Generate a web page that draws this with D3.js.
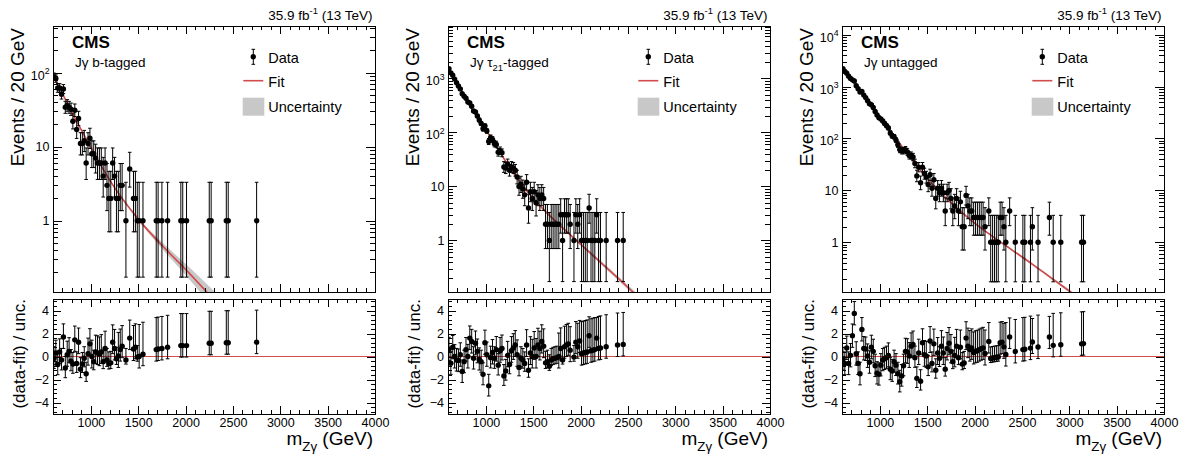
<!DOCTYPE html>
<html>
<head>
<meta charset="utf-8">
<script src="https://cdn.jsdelivr.net/npm/d3@7"></script>
<style>
  body { margin: 0; background: #fff; }
  text { font-family: "Liberation Sans", Arial, Helvetica, sans-serif; fill: #000; }
</style>
</head>
<body>
<script>

// ---- b-tagged category ----
var bMass = [610,630,650,670,690,710,730,750,770,790,
             810,830,850,870,890,910,930,950,970,990,
             1010,1030,1050,1070,1090,1110,1130,1150,1170,1190,
             1210,1230,1250,1270,1290,1310,1330,
             1370,1410,1450,1470,1490,1510,1550,
             1690,1710,1750,1810,1950,1970,2010,
             2250,2270,2430,2450,2750];
var bCounts = [88,83,62,62,51,60,34,36,34,32,
               22,31,17,24,11,11,12,6,11,13,
               8,8,7,6,6,6,4,6,3,2,
               2,6,4,2,2,3,3,
               1,5,2,2,1,1,1,
               1,1,1,1,1,1,1,
               1,1,1,1,1];
var bPulls = [-0.15,0.3,-0.7,0.4,-0.3,1.7,-1.0,0.15,0.45,-0.4,
              -0.65,1.45,-0.6,1.25,-1.1,-0.65,-0.15,-1.5,0.25,1.1,
              0,-0.45,0.4,0.3,0.2,0.4,-0.45,0.7,-0.3,-0.6,
              -0.55,1.25,0.7,-0.2,0.05,0.6,0.9,
              -0.3,1.6,0.65,0.8,-0.05,0,0.2,
              0.6,0.65,0.7,0.8,0.95,0.95,0.95,
              1.15,1.15,1.2,1.2,1.25];
var bFitMass = [600,800,1000,1200,1500,1800,2000,2300];
var bFitVals = [95,29,9.8,3.5,1.05,0.40,0.22,0.085];
var bBand    = [0.008,0.008,0.008,0.012,0.02,0.05,0.075,0.12];   // half width, decades
var bDecades = [1,10,100];

// ---- tau21-tagged category ----
var tMass = [610,630,650,670,690,710,730,750,770,790,
             810,830,850,870,890,910,930,950,970,990,
             1010,1030,1050,1070,1090,1110,1130,1150,1170,1190,
             1210,1230,1250,1270,1290,1310,1330,1350,1370,1390,
             1410,1430,1450,1470,1490,1510,1530,1550,1570,1590,
             1610,1630,1650,1670,1690,1710,1730,1750,1770,1790,
             1810,1830,1850,1870,1890,1930,1950,1970,1990,2010,
             2030,2050,2070,2090,2110,2130,2150,2170,2190,2210,
             2270,2390,2450];
var tCounts = [1515,1273,1149,975,838,726,642,523,471,430,
               366,352,307,250,239,202,170,147,117,132,
               107,68,80,74,62,60,43,46,42,23,
               22,26,20,23,22,20,15,10,11,9,
               7,12,4,8,6,8,5,7,6,7,
               6,2,2,1,2,2,2,2,2,3,
               1,3,3,3,2,1,3,2,3,1,
               1,1,1,4,1,1,1,3,1,1,
               1,1,1];
var tPulls = [0.64,-0.58,0.8,0,-0.3,-0.35,0.15,-1.3,-0.45,0.6,
              0,1.6,1.3,-0.15,1.15,0.45,-0.25,-0.45,-1.55,1.2,
              0.15,-2.55,-0.1,0.35,-0.15,0.6,-0.75,0.5,0.7,-1.7,
              -1.25,0.1,-0.7,0.5,0.75,1.0,0.15,-0.95,-0.15,-0.3,
              -0.6,1.0,-1.2,0.3,0,0.75,0,1.0,0.7,1.3,
              0.9,-0.55,-0.45,-0.85,-0.3,-0.2,-0.15,-0.1,0,0.7,
              -0.3,0.85,1.0,1.1,0.55,-0.05,1.25,0.85,1.35,0.25,
              0.3,0.35,0.4,1.8,0.5,0.55,0.6,1.6,0.7,0.75,
              0.85,1.0,1.05];
var tFitMass = [600,800,1000,1200,1400,1600,1800,2000,2200,2400,2600];
var tFitVals = [1600,389,112,30.9,9.77,3.89,1.78,0.85,0.41,0.197,0.093];
var tBand    = [0.005,0.005,0.005,0.006,0.008,0.012,0.018,0.024,0.03,0.038,0.045];
var tDecades = [1,10,100,1000];

// ---- untagged category ----
var uMass = [610,630,650,670,690,710,730,750,770,790,
             810,830,850,870,890,910,930,950,970,990,
             1010,1030,1050,1070,1090,1110,1130,1150,1170,1190,
             1210,1230,1250,1270,1290,1310,1330,1350,1370,1390,
             1410,1430,1450,1470,1490,1510,1530,1550,1570,1590,
             1610,1630,1650,1670,1690,1710,1730,1750,1770,1790,
             1810,1830,1850,1870,1890,1910,1930,1950,1970,1990,
             2010,2030,2050,2070,2090,2110,
             2150,2170,2190,2210,2230,2250,2270,2290,2310,2330,
             2370,2430,2510,2530,2590,2610,2670,2790,2830,2910,3130,3150];
var uCounts = [2209,1963,1815,1576,1436,1349,1278,1041,907,787,
               807,685,613,536,469,447,395,331,284,252,
               237,218,195,176,159,128,112,108,93,76,
               61,58,58,61,55,47,47,44,33,19,
               28,14,28,21,18,13,20,11,16,7,
               11,9,11,9,4,9,10,7,4,5,
               7,4,6,2,2,8,5,4,4,3,
               3,3,3,3,3,2,
               4,1,1,1,1,1,3,3,2,1,
               4,1,1,1,1,2,1,3,1,1,1,1];
var uPulls = [-0.2,-0.6,0.75,-0.6,0.1,1.8,3.75,0.25,-0.6,-1.5,
              2.35,0.7,0.65,0.05,-0.5,0.8,0.45,-0.8,-1.45,-1.55,
              -0.75,-0.3,-0.2,-0.1,0.1,-1.1,-1.25,-0.45,-0.75,-1.5,
              -2.2,-1.7,-0.8,0.45,0.4,0.05,0.9,1.05,-0.1,-1.9,
              0.3,-2.15,1.2,0.15,0.05,-0.9,1.35,-0.6,1.1,-1.2,
              0.3,-0.15,0.9,0.3,-1.1,0.7,1.15,0.45,-0.45,0.1,
              0.9,-0.1,0.8,-0.66,-0.56,1.6,0.9,0.6,0.75,0.35,
              0.45,0.5,0.6,0.68,0.75,0.26,
              1.3,-0.17,-0.13,-0.1,-0.07,-0.04,1.2,1.25,0.84,0.17,
              1.7,0.44,0.6,0.63,0.73,1.26,0.82,1.7,0.97,1.02,1.1,1.12];
var uFitMass = [600,800,1000,1200,1400,1600,1800,2000,2200,2400,2600,2800,3000,3100];
var uFitVals = [2344,785,263,85.1,28.2,10.7,4.79,2.34,1.26,0.70,0.389,0.211,0.115,0.085];
var uBand    = [0.004,0.004,0.004,0.005,0.006,0.008,0.01,0.012,0.014,0.017,0.02,0.024,0.028,0.03];
var uDecades = [1,10,100,1000,10000];

// axis labels
var xTickLabels = [1000,1500,2000,2500,3000,3500,4000];
var pullTickLabels = [-4,-2,0,2,4];

// Garwood intervals for small counts
var garLo = [0,0.827,1.292,1.633,1.914,2.159];
var garHi = [1.841,2.300,2.638,2.918,3.163,3.382];
function errLo(n){ return n < garLo.length ? garLo[n] : Math.sqrt(n-0.25); }
function errHi(n){ return n < garHi.length ? garHi[n] : Math.sqrt(n+0.75)+1; }

var red = "#d24c4c";
var bandGrey = "#c8c8c8";

var svg = d3.select("body").append("svg")
    .attr("width", 1193)
    .attr("height", 466);

// text with sub/superscripts: parts = [[text, ""|"sup"|"sub"], ...]
function richText(sel, parts, size){
    var shift = 0;
    parts.forEach(function(p){
        var target = p[1] === "sup" ? -size*0.42 : (p[1] === "sub" ? size*0.32 : 0);
        sel.append("tspan")
            .attr("font-size", p[1] ? size*0.7 : size)
            .attr("dy", target - shift)
            .text(p[0]);
        shift = target;
    });
}

var panels = [
    {dx: 0,   mass: bMass, counts: bCounts, pulls: bPulls, fitM: bFitMass, fitV: bFitVals, band: bBand,
     yDom: [0.109, 425], decades: bDecades, label: [["J\u03b3 b-tagged", ""]]},
    {dx: 395, mass: tMass, counts: tCounts, pulls: tPulls, fitM: tFitMass, fitV: tFitVals, band: tBand,
     yDom: [0.111, 9380], decades: tDecades, label: [["J\u03b3 \u03c4", ""], ["21", "sub"], ["-tagged", ""]]},
    {dx: 789, mass: uMass, counts: uCounts, pulls: uPulls, fitM: uFitMass, fitV: uFitVals, band: uBand,
     yDom: [0.110, 14700], decades: uDecades, label: [["J\u03b3 untagged", ""]]}
];

// pad geometry (pixels)
var padL = 53, padR = 375, upTop = 26, upBottom = 292, loTop = 299, loBottom = 414;

panels.forEach(function(p, k){

    var g = svg.append("g").attr("transform", "translate(" + p.dx + ",0)");

    var x = d3.scaleLinear().domain([600, 4000]).range([padL, padR]);
    var y = d3.scaleLog().domain(p.yDom).range([upBottom, upTop]);
    var yr = d3.scaleLinear().domain([-5, 5]).range([loBottom, loTop]);

    // clip regions
    var defs = g.append("defs");
    defs.append("clipPath").attr("id", "clipU" + k).append("rect")
        .attr("x", padL).attr("y", upTop).attr("width", padR-padL).attr("height", upBottom-upTop);
    defs.append("clipPath").attr("id", "clipL" + k).append("rect")
        .attr("x", padL).attr("y", loTop).attr("width", padR-padL).attr("height", loBottom-loTop);

    var rows = p.mass.map(function(m, i){
        return {m: m, n: p.counts[i], r: p.pulls[i]};
    });
    var fit = p.fitM.map(function(m, i){
        return {m: m, v: p.fitV[i], w: p.band[i]};
    });

    // ---------- upper pad ----------
    var up = g.append("g").attr("clip-path", "url(#clipU" + k + ")");

    up.append("path")
        .datum(fit)
        .attr("fill", bandGrey)
        .attr("d", d3.area()
            .x(function(d){ return x(d.m); })
            .y0(function(d){ return y(d.v / Math.pow(10, d.w)); })
            .y1(function(d){ return y(d.v * Math.pow(10, d.w)); })
            .curve(d3.curveMonotoneX));

    up.append("path")
        .datum(fit)
        .attr("fill", "none")
        .attr("stroke", red)
        .attr("stroke-width", 1.6)
        .attr("d", d3.line()
            .x(function(d){ return x(d.m); })
            .y(function(d){ return y(d.v); })
            .curve(d3.curveMonotoneX));

    var eu = up.selectAll(".eu").data(rows).enter().append("g");
    eu.append("line")
        .attr("x1", function(d){ return x(d.m); })
        .attr("x2", function(d){ return x(d.m); })
        .attr("y1", function(d){ return y(d.n - errLo(d.n)); })
        .attr("y2", function(d){ return y(d.n + errHi(d.n)); })
        .attr("stroke", "#000").attr("stroke-width", 1);
    [function(d){ return y(d.n - errLo(d.n)); }, function(d){ return y(d.n + errHi(d.n)); }].forEach(function(fy){
        eu.append("line")
            .attr("x1", function(d){ return x(d.m) - 1.8; })
            .attr("x2", function(d){ return x(d.m) + 1.8; })
            .attr("y1", fy).attr("y2", fy)
            .attr("stroke", "#000").attr("stroke-width", 1);
    });
    up.selectAll(".pt").data(rows).enter().append("circle")
        .attr("cx", function(d){ return x(d.m); })
        .attr("cy", function(d){ return y(d.n); })
        .attr("r", 2.7)
        .attr("fill", "#000");

    // ---------- lower pad ----------
    var lo = g.append("g").attr("clip-path", "url(#clipL" + k + ")");

    lo.append("line")
        .attr("x1", x(600)).attr("x2", x(4000))
        .attr("y1", yr(0)).attr("y2", yr(0))
        .attr("stroke", red).attr("stroke-width", 1.2);

    function pullLow(d){ return d.r >= 0 ? d.r - 1 : d.r - errLo(d.n) / errHi(d.n); }
    function pullHigh(d){ return d.r >= 0 ? d.r + errHi(d.n) / errLo(d.n) : d.r + 1; }

    var el = lo.selectAll(".el").data(rows).enter().append("g");
    el.append("line")
        .attr("x1", function(d){ return x(d.m); })
        .attr("x2", function(d){ return x(d.m); })
        .attr("y1", function(d){ return yr(pullLow(d)); })
        .attr("y2", function(d){ return yr(pullHigh(d)); })
        .attr("stroke", "#000").attr("stroke-width", 1);
    [pullLow, pullHigh].forEach(function(fv){
        el.append("line")
            .attr("x1", function(d){ return x(d.m) - 1.8; })
            .attr("x2", function(d){ return x(d.m) + 1.8; })
            .attr("y1", function(d){ return yr(fv(d)); })
            .attr("y2", function(d){ return yr(fv(d)); })
            .attr("stroke", "#000").attr("stroke-width", 1);
    });
    lo.selectAll(".pp").data(rows).enter().append("circle")
        .attr("cx", function(d){ return x(d.m); })
        .attr("cy", function(d){ return yr(d.r); })
        .attr("r", 2.7)
        .attr("fill", "#000");

    // ---------- axes ----------
    var xMinor = d3.range(700, 4000, 100).filter(function(v){ return v % 500 !== 0; });
    var logMinor = [];
    [0.1, 1, 10, 100, 1000, 10000].forEach(function(dec){
        for (var j = 2; j <= 9; j++){
            var v = dec * j;
            if (v > p.yDom[0] && v < p.yDom[1]) logMinor.push(v);
        }
    });
    var pullMinor = d3.range(-4.8, 5, 0.4).filter(function(v){
        return Math.abs(Math.round(v) - v) > 0.01 || Math.round(v) % 2 !== 0;
    });

    function addAxis(axis, tx, ty){
        var a = g.append("g")
            .attr("transform", "translate(" + tx + "," + ty + ")")
            .call(axis);
        a.select(".domain").remove();
        a.selectAll("line").attr("stroke", "#000").attr("shape-rendering", "crispEdges");
        return a;
    }

    // upper pad
    addAxis(d3.axisBottom(x).tickValues(xTickLabels).tickSize(-8).tickFormat(""), 0, upBottom);
    addAxis(d3.axisBottom(x).tickValues(xMinor).tickSize(-4).tickFormat(""), 0, upBottom);
    addAxis(d3.axisTop(x).tickValues(xTickLabels).tickSize(-8).tickFormat(""), 0, upTop);
    addAxis(d3.axisTop(x).tickValues(xMinor).tickSize(-4).tickFormat(""), 0, upTop);
    addAxis(d3.axisLeft(y).tickValues(p.decades).tickSize(-9).tickFormat(""), padL, 0);
    addAxis(d3.axisLeft(y).tickValues(logMinor).tickSize(-5).tickFormat(""), padL, 0);
    addAxis(d3.axisRight(y).tickValues(p.decades).tickSize(-9).tickFormat(""), padR, 0);
    addAxis(d3.axisRight(y).tickValues(logMinor).tickSize(-5).tickFormat(""), padR, 0);

    // lower pad
    var xa = addAxis(d3.axisBottom(x).tickValues(xTickLabels).tickSize(-8).tickPadding(4)
        .tickFormat(d3.format("d")), 0, loBottom);
    addAxis(d3.axisBottom(x).tickValues(xMinor).tickSize(-4).tickFormat(""), 0, loBottom);
    addAxis(d3.axisTop(x).tickValues(xTickLabels).tickSize(-8).tickFormat(""), 0, loTop);
    addAxis(d3.axisTop(x).tickValues(xMinor).tickSize(-4).tickFormat(""), 0, loTop);
    var ya = addAxis(d3.axisLeft(yr).tickValues(pullTickLabels).tickSize(-8).tickPadding(4)
        .tickFormat(d3.format("d")), padL, 0);
    addAxis(d3.axisLeft(yr).tickValues(pullMinor).tickSize(-4).tickFormat(""), padL, 0);
    addAxis(d3.axisRight(yr).tickValues(pullTickLabels).tickSize(-8).tickFormat(""), padR, 0);
    addAxis(d3.axisRight(yr).tickValues(pullMinor).tickSize(-4).tickFormat(""), padR, 0);

    [xa, ya].forEach(function(a){
        a.attr("font-family", null).attr("font-size", null);
        a.selectAll("text").attr("font-size", 12.5).attr("fill", "#000");
    });

    // log labels
    p.decades.forEach(function(v){
        var e = Math.round(Math.log10(v));
        var t = g.append("text")
            .attr("x", 49.5)
            .attr("text-anchor", "end");
        if (e <= 1){
            t.attr("y", y(v) + 4.4).attr("font-size", 12.5).text(String(v));
        } else {
            t.attr("y", y(v) + 7);
            richText(t, [["10", ""], [String(e), "sup"]], 12.5);
        }
    });

    // frames
    g.append("rect").attr("x", padL).attr("y", upTop)
        .attr("width", padR-padL).attr("height", upBottom-upTop)
        .attr("fill", "none").attr("stroke", "#000").attr("shape-rendering", "crispEdges");
    g.append("rect").attr("x", padL).attr("y", loTop)
        .attr("width", padR-padL).attr("height", loBottom-loTop)
        .attr("fill", "none").attr("stroke", "#000").attr("shape-rendering", "crispEdges");

    // titles
    g.append("text")
        .attr("transform", "translate(24,28) rotate(-90)")
        .attr("text-anchor", "end")
        .attr("font-size", 19)
        .text("Events / 20 GeV");
    g.append("text")
        .attr("transform", "translate(24.5,299) rotate(-90)")
        .attr("text-anchor", "end")
        .attr("font-size", 17)
        .text("(data-fit) / unc.");
    var xt = g.append("text")
        .attr("x", 373).attr("y", 445)
        .attr("text-anchor", "end");
    richText(xt, [["m", ""], ["Z\u03b3", "sub"], [" (GeV)", ""]], 19);

    var lumi = g.append("text")
        .attr("x", 372.5).attr("y", 19.5)
        .attr("text-anchor", "end");
    richText(lumi, [["35.9 fb", ""], ["-1", "sup"], [" (13 TeV)", ""]], 13.5);

    g.append("text")
        .attr("x", 72).attr("y", 48)
        .attr("font-size", 17)
        .attr("font-weight", "bold")
        .text("CMS");
    var cat = g.append("text").attr("x", 75).attr("y", 67);
    richText(cat, p.label, 13.5);

    // legend
    var lg = g.append("g");
    lg.append("line").attr("x1", 253.3).attr("x2", 253.3).attr("y1", 49.3).attr("y2", 64.3)
        .attr("stroke", "#000");
    [49.3, 64.3].forEach(function(cy){
        lg.append("line").attr("x1", 251.5).attr("x2", 255.1).attr("y1", cy).attr("y2", cy)
            .attr("stroke", "#000");
    });
    lg.append("circle").attr("cx", 253.3).attr("cy", 56.8).attr("r", 2.7).attr("fill", "#000");
    lg.append("text").attr("x", 268.3).attr("y", 62.5).attr("font-size", 14.5).text("Data");

    lg.append("line").attr("x1", 243.3).attr("x2", 263.3).attr("y1", 80.7).attr("y2", 80.7)
        .attr("stroke", red).attr("stroke-width", 1.6);
    lg.append("text").attr("x", 268.3).attr("y", 86.5).attr("font-size", 14.5).text("Fit");

    lg.append("rect").attr("x", 242.7).attr("y", 97.7).attr("width", 21.6).attr("height", 18)
        .attr("fill", bandGrey);
    lg.append("text").attr("x", 268.3).attr("y", 111.5).attr("font-size", 14.5).text("Uncertainty");
});

</script>
</body>
</html>
